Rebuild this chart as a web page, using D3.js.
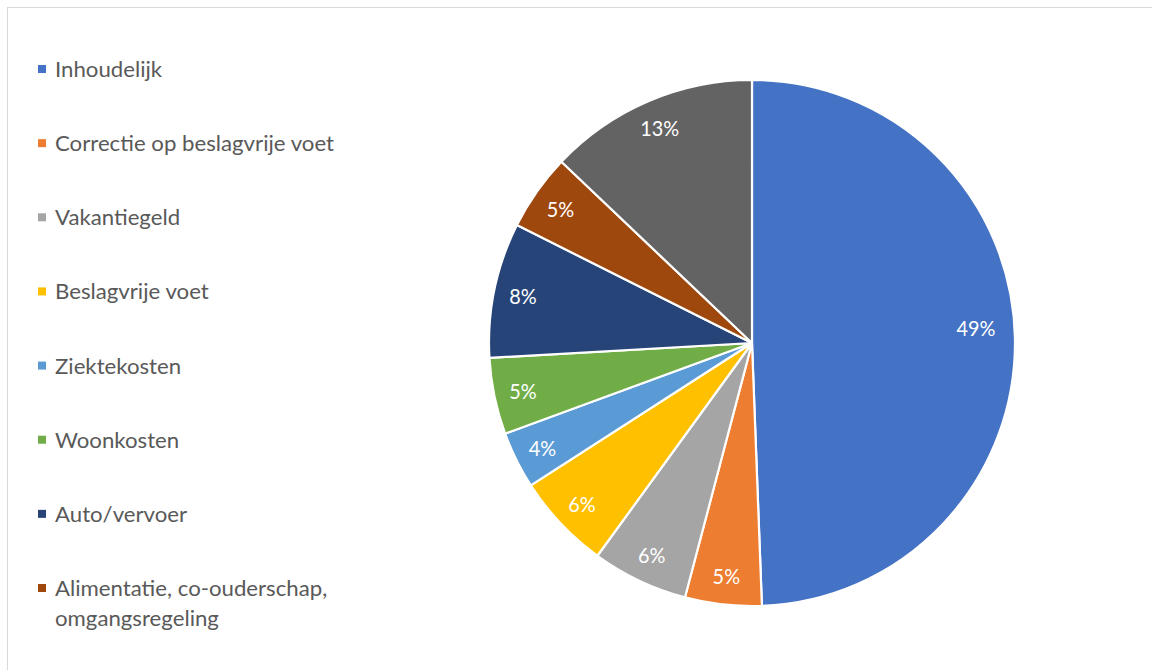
<!DOCTYPE html>
<html><head><meta charset="utf-8">
<script src="https://cdn.jsdelivr.net/npm/d3@7"></script>
<style>html,body{margin:0;padding:0;background:#fff;overflow:hidden}</style>
</head><body>
<svg id="c" width="1152" height="670"></svg>
<script>
const categories = ["Inhoudelijk","Correctie op beslagvrije voet","Vakantiegeld","Beslagvrije voet","Ziektekosten","Woonkosten","Auto/vervoer","Alimentatie, co-ouderschap, omgangsregeling","Overig"];
const values = [49.4, 4.7, 5.9, 5.9, 3.5, 4.7, 8.3, 4.7, 12.9];
const colors = ["#4472C4","#ED7D31","#A5A5A5","#FFC000","#5B9BD5","#70AD47","#264478","#9E480E","#636363"];
const legendLines = [["Inhoudelijk"],["Correctie op beslagvrije voet"],["Vakantiegeld"],["Beslagvrije voet"],["Ziektekosten"],["Woonkosten"],["Auto/vervoer"],["Alimentatie, co-ouderschap,","omgangsregeling"]];

const svg = d3.select("#c");
const font = "Lato, 'Open Sans', sans-serif";

// chart frame
svg.append("rect").attr("x",7.5).attr("y",7.5).attr("width",1160).attr("height",680)
  .attr("fill","none").attr("stroke","#d9d9d9").attr("stroke-width",1);

function textW(str, size){
  const t = svg.append("text").attr("font-family",font).attr("font-size",size).text(str);
  const w = t.node().getComputedTextLength(); t.remove();
  return w;
}
const legSize = 20.5;
const lblSize = 21;
const legScale = 279 / textW("Correctie op beslagvrije voet", legSize);
const lblScale = 39 / textW("13%", lblSize);

const cx = 752, cy = 343, R = 263;
const pie = d3.pie().value(d=>d).sort(null);
const arcs = pie(values);
const arc = d3.arc().innerRadius(0).outerRadius(R);
const lblArc = d3.arc().innerRadius(234).outerRadius(234);

const g = svg.append("g").attr("transform",`translate(${cx},${cy})`);
g.selectAll("path").data(arcs).join("path")
  .attr("d",arc).attr("fill",(d,i)=>colors[i])
  .attr("stroke","#fff").attr("stroke-width",2.2).attr("stroke-linejoin","round");
g.selectAll("text").data(arcs).join("text")
  .attr("transform",(d,i)=>{const c=lblArc.centroid(d); if(i===0){c[0]-=10;c[1]-=11;} return `translate(${c})`;})
  .attr("text-anchor","middle").attr("dominant-baseline","central")
  .attr("font-family",font).attr("font-size",lblSize).attr("fill","#fff")
  .each(function(d){
    const s = Math.round(d.value)+"%";
    d3.select(this).text(s).attr("textLength", textW(s,lblSize)*lblScale).attr("lengthAdjust","spacingAndGlyphs");
  });

// legend
const ly = d3.scalePoint().domain(d3.range(legendLines.length)).range([69,588]);
const leg = svg.append("g");
legendLines.forEach((lines,i)=>{
  const y = ly(i);
  leg.append("rect").attr("x",38).attr("y",y-4).attr("width",8).attr("height",8).attr("fill",colors[i]);
  lines.forEach((ln,j)=>{
    leg.append("text").attr("x",55).attr("y",y+j*30).attr("dominant-baseline","central")
      .attr("font-family",font).attr("font-size",legSize).attr("fill","#595959")
      .attr("textLength", textW(ln,legSize)*legScale).attr("lengthAdjust","spacingAndGlyphs")
      .text(ln);
  });
});
</script>
</body></html>
